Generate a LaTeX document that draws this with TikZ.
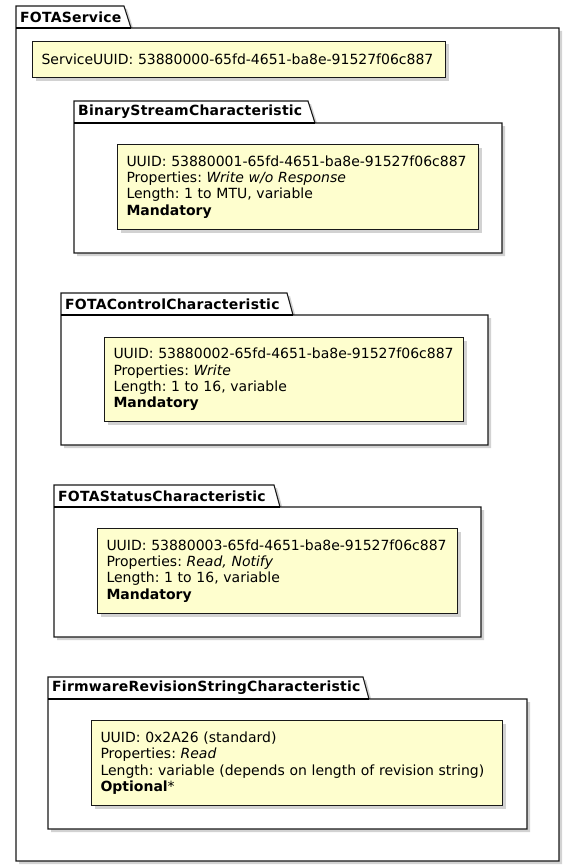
\documentclass[tikz,border=0pt]{standalone}
\usepackage{fontspec}
\setmainfont{DejaVu Sans}
\newfontfamily\pkgfont[LetterSpace=1.6]{DejaVu Sans}
\frenchspacing
\usetikzlibrary{shadows}
\definecolor{notefill}{HTML}{FEFECE}

\begin{document}
\begin{tikzpicture}[x=1pt,y=-1pt,
        pkg/.style={draw=black!90,fill=white,line width=1.1pt,line join=miter,
                drop shadow={shadow xshift=3pt,shadow yshift=-3pt,opacity=.35}},
        note/.style={draw=black!90,fill=notefill,line width=1pt,anchor=north west,
                align=left,inner xsep=9pt,inner ysep=0pt,
                font=\fontsize{14}{16.3}\selectfont,
                drop shadow={shadow xshift=3pt,shadow yshift=-3pt,opacity=.35}},
        title/.style={anchor=west,inner sep=0pt,font=\pkgfont\bfseries\fontsize{14}{16}\selectfont}]

        \useasboundingbox (0,0) rectangle (575,867);

        %\draw [help lines,step=50] (0,0) grid (575,867);

        % FOTAService
        \draw[pkg] (16,6) -- (124,6) -- (131,28) -- (559,28) -- (559,861) -- (16,861) -- cycle;
        \draw[line width=1.1pt] (16,28) -- (131,28);
        \node[title] (svc) at (20,17) {FOTAService};
        \node[note,text width=395pt,minimum height=36pt] (svcuuid) at (32,41)
                {ServiceUUID: 53880000-65fd-4651-ba8e-91527f06c887};

        % BinaryStreamCharacteristic
        \draw[pkg] (74,101) -- (308,101) -- (315,123) -- (502,123) -- (502,253) -- (74,253) -- cycle;
        \draw[line width=1.1pt] (74,123) -- (315,123);
        \node[title] (bin) at (78,112) {BinaryStreamCharacteristic};
        \node[note,text width=343pt,minimum height=85pt] (binnote) at (117,144)
                {UUID: 53880001-65fd-4651-ba8e-91527f06c887\\
                 Properties: \textit{Write w/o Response}\\
                 Length: 1 to MTU, variable\\
                 \textbf{Mandatory}};

        % FOTAControlCharacteristic
        \draw[pkg] (61,293) -- (287,293) -- (293,315) -- (488,315) -- (488,445) -- (61,445) -- cycle;
        \draw[line width=1.1pt] (61,315) -- (293,315);
        \node[title] (ctrl) at (65,304) {FOTAControlCharacteristic};
        \node[note,text width=341pt,minimum height=84pt] (ctrlnote) at (104,337)
                {UUID: 53880002-65fd-4651-ba8e-91527f06c887\\
                 Properties: \textit{Write}\\
                 Length: 1 to 16, variable\\
                 \textbf{Mandatory}};

        % FOTAStatusCharacteristic
        \draw[pkg] (54,485) -- (274,485) -- (280,507) -- (481,507) -- (481,637) -- (54,637) -- cycle;
        \draw[line width=1.1pt] (54,507) -- (280,507);
        \node[title] (stat) at (58,496) {FOTAStatusCharacteristic};
        \node[note,text width=342pt,minimum height=85pt] (statnote) at (97,528)
                {UUID: 53880003-65fd-4651-ba8e-91527f06c887\\
                 Properties: \textit{Read, Notify}\\
                 Length: 1 to 16, variable\\
                 \textbf{Mandatory}};

        % FirmwareRevisionStringCharacteristic
        \draw[pkg] (48,677) -- (363,677) -- (369,699) -- (527,699) -- (527,829) -- (48,829) -- cycle;
        \draw[line width=1.1pt] (48,699) -- (369,699);
        \node[title] (fw) at (52,688) {FirmwareRevisionStringCharacteristic};
        \node[note,text width=393pt,minimum height=85pt] (fwnote) at (91,720)
                {UUID: 0x2A26 (standard)\\
                 Properties: \textit{Read}\\
                 Length: variable (depends on length of revision string)\\
                 \textbf{Optional}*};

\end{tikzpicture}
\end{document}
